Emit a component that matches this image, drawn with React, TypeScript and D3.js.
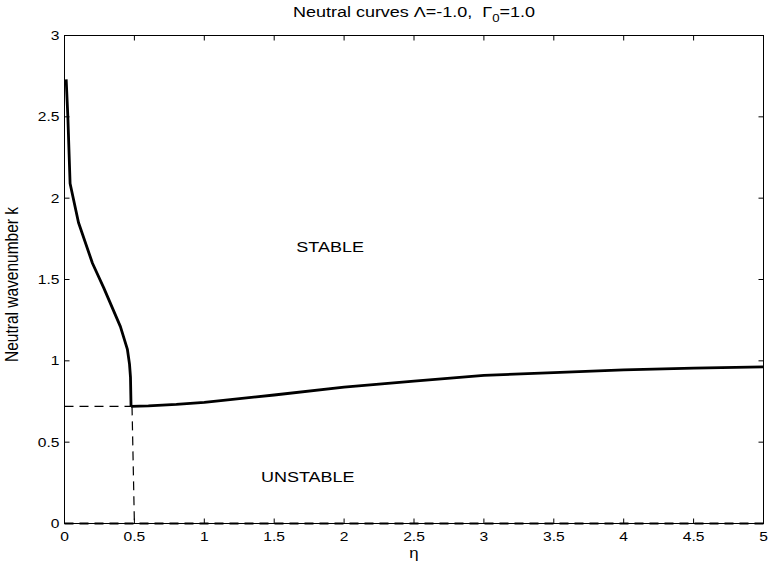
import React from "react";
import * as d3 from "d3";

const upperBranchEta = [0.012, 0.024, 0.04, 0.1, 0.2, 0.28, 0.4, 0.45, 0.465, 0.472, 0.476];
const upperBranchK = [2.73, 2.5, 2.09, 1.85, 1.6, 1.45, 1.21, 1.07, 0.98, 0.9, 0.72];
const lowerBranchEta = [0.476, 0.6, 0.8, 1.0, 1.5, 2.0, 2.5, 3.0, 3.5, 4.0, 4.5, 5.0];
const lowerBranchK = [0.72, 0.723, 0.732, 0.745, 0.79, 0.838, 0.875, 0.91, 0.928, 0.945, 0.955, 0.963];
const hDashEta = [0, 0.476];
const hDashK = [0.72, 0.72];
const vDashEta = [0.483, 0.5];
const vDashK = [0.72, 0];
const zeroDashEta = [0, 5];
const zeroDashK = [0, 0];
const xTicks = [0, 0.5, 1, 1.5, 2, 2.5, 3, 3.5, 4, 4.5, 5];
const yTicks = [0, 0.5, 1, 1.5, 2, 2.5, 3];
const regionLabels = ["STABLE", "UNSTABLE"];
const regionEta = [1.9, 1.74];
const regionK = [1.7, 0.285];

const W = 770, H = 567;
const L = 64.5, R = 763.5, T = 35.5, B = 523.5;
const SX = 1.2;
const FONT = "'Liberation Sans', Arial, sans-serif";

export default function App() {
  const x = d3.scaleLinear().domain([0, 5]).range([L, R]);
  const y = d3.scaleLinear().domain([0, 3]).range([B, T]);
  const line = d3.line<[number, number]>().x(d => x(d[0])).y(d => y(d[1]));
  const zip = (a: number[], b: number[]) => a.map((v, i) => [v, b[i]] as [number, number]);
  const fmt = (v: number) => String(v);
  const tl = 5;

  const txt = (key: string, px: number, py: number, s: string, size: number, anchor: string) => (
    <g key={key} transform={`translate(${px},${py}) scale(${SX},1)`}>
      <text x={0} y={0} fontSize={size} textAnchor={anchor} fontFamily={FONT} fill="#000">{s}</text>
    </g>
  );

  return (
    <svg width={W} height={H} style={{ position: "absolute", left: 0, top: 0, background: "#fff" }}>
      <rect x={0} y={0} width={W} height={H} fill="#fff" />
      <rect x={L} y={T} width={R - L} height={B - T} fill="none" stroke="#000" strokeWidth={1} />
      {xTicks.map(t => (
        <g key={"xt" + t}>
          <line x1={x(t)} x2={x(t)} y1={B} y2={B - tl} stroke="#000" />
          <line x1={x(t)} x2={x(t)} y1={T} y2={T + tl} stroke="#000" />
          {txt("xl" + t, x(t), 541, fmt(t), 13, "middle")}
        </g>
      ))}
      {yTicks.map(t => (
        <g key={"yt" + t}>
          <line x1={L} x2={L + tl} y1={y(t)} y2={y(t)} stroke="#000" />
          <line x1={R} x2={R - tl} y1={y(t)} y2={y(t)} stroke="#000" />
          {txt("yl" + t, L - 5, y(t) + 4.5, fmt(t), 13, "end")}
        </g>
      ))}
      <path d={line(zip(hDashEta, hDashK)) || ""} fill="none" stroke="#000" strokeWidth={1.2} strokeDasharray="9,6" />
      <path d={line(zip(vDashEta, vDashK)) || ""} fill="none" stroke="#000" strokeWidth={1.2} strokeDasharray="9,6" />
      <path d={line(zip(zeroDashEta, zeroDashK)) || ""} fill="none" stroke="#000" strokeWidth={2} strokeDasharray="9,6" />
      <path d={line(zip(upperBranchEta, upperBranchK)) || ""} fill="none" stroke="#000" strokeWidth={2.8} strokeLinejoin="round" />
      <path d={line(zip(lowerBranchEta, lowerBranchK)) || ""} fill="none" stroke="#000" strokeWidth={2.8} strokeLinejoin="round" />
      {regionLabels.map((s, i) => txt("r" + i, x(regionEta[i]), y(regionK[i]) + 5, s, 15, "middle"))}
      <g transform={`translate(${(L + R) / 2},17) scale(${SX},1)`}>
        <text x={0} y={0} fontSize={15} textAnchor="middle" fontFamily={FONT} fill="#000">
          Neutral curves Λ=-1.0,{"\u00a0\u00a0"}Γ<tspan fontSize={11} dy={5}>0</tspan><tspan dy={-5}>=1.0</tspan>
        </text>
      </g>
      {txt("eta", (L + R) / 2, 558, "η", 14, "middle")}
      <g transform={`translate(18,${(T + B) / 2 + 5}) rotate(-90) scale(1,${SX})`}>
        <text x={0} y={0} fontSize={15.5} textAnchor="middle" fontFamily={FONT} fill="#000">Neutral wavenumber k</text>
      </g>
    </svg>
  );
}
